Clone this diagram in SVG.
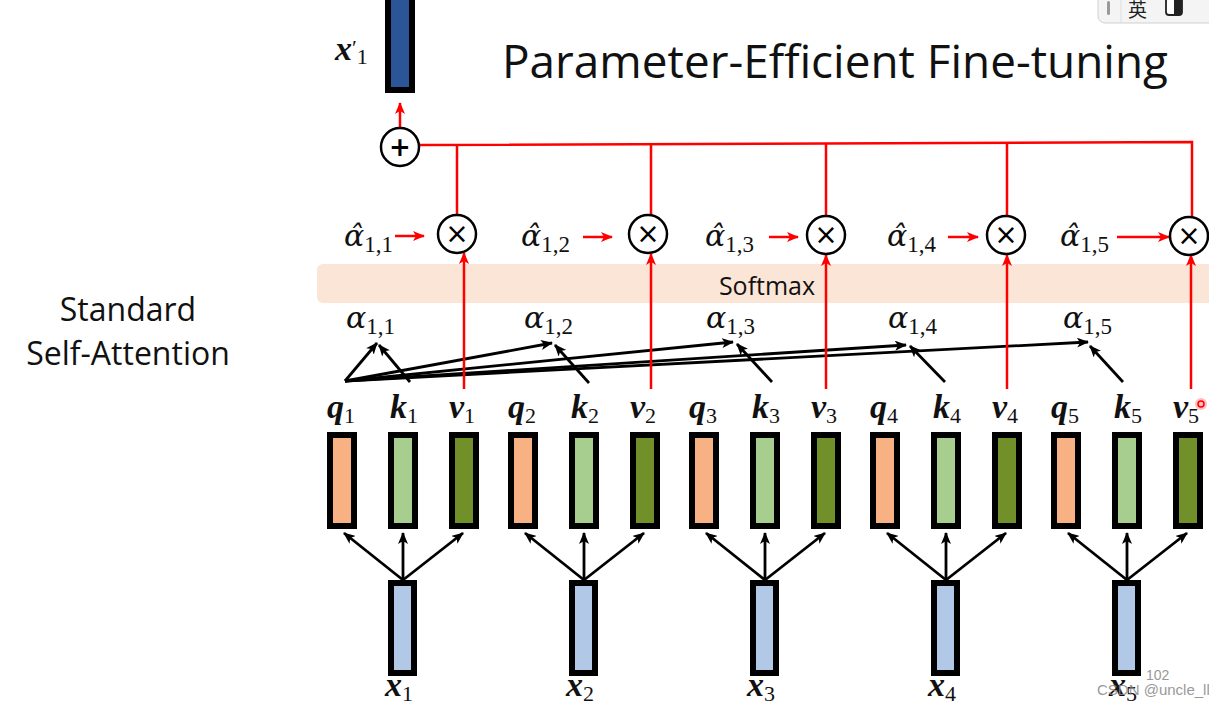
<svg xmlns="http://www.w3.org/2000/svg" width="1209" height="704" viewBox="0 0 1209 704">
<defs>
<marker id="ab" markerUnits="userSpaceOnUse" markerWidth="12" markerHeight="10" refX="11" refY="5" orient="auto"><path d="M0,0 L12,5 L0,10 L3,5 Z" fill="#000"/></marker>
<marker id="ar" markerUnits="userSpaceOnUse" markerWidth="12" markerHeight="10" refX="11" refY="5" orient="auto"><path d="M0,0 L12,5 L0,10 L3,5 Z" fill="#f00"/></marker>
<style>
.box{stroke:#000;stroke-width:6}
.q{fill:#F8B183}.k{fill:#A7CD8F}.v{fill:#72902A}.x{fill:#B1C8E6}.xo{fill:#2C5597}
.bl{stroke:#000;stroke-width:2.8;fill:none;marker-end:url(#ab)}
.rd{stroke:#f00;stroke-width:2.5;fill:none}
.ra{stroke:#f00;stroke-width:2.5;fill:none;marker-end:url(#ar)}
.op{fill:#fff;stroke:#000;stroke-width:2.5}
.lb{font-family:"Liberation Serif",serif;font-style:italic;font-weight:bold;font-size:34px;fill:#111}
.sb{font-family:"Liberation Serif",serif;font-style:normal;font-weight:normal;font-size:22px}
.al{font-family:"DejaVu Serif",serif;font-style:italic;font-size:30px;fill:#111}
.as{font-family:"Liberation Serif",serif;font-style:normal;font-size:23px}
.sans{font-family:"Open Sans","Liberation Sans",sans-serif}
.sym{font-family:"DejaVu Sans",sans-serif;text-anchor:middle}
</style>
</defs>
<rect width="1209" height="704" fill="#fff"/>

<!-- title & side label -->
<text class="sans" x="502" y="78" font-size="46" textLength="666" lengthAdjust="spacingAndGlyphs" fill="#111">Parameter-Efficient Fine-tuning</text>
<g id="side-label" class="sans" font-size="32" text-anchor="middle" fill="#111">
<text x="128" y="321">Standard</text>
<text x="128" y="365">Self-Attention</text>
</g>

<!-- softmax band -->
<g id="softmax">
<rect x="317" y="264" width="900" height="39" rx="6" fill="#FBE5D6"/>
<text class="sans" x="767" y="295" font-size="25" text-anchor="middle" fill="#111">Softmax</text>
</g>

<!-- connectors -->
<g id="connectors">
<path class="bl" d="M403,580 L344,533"/><path class="bl" d="M403,580 L403,533"/><path class="bl" d="M403,580 L463,533"/>
<path class="bl" d="M584,580 L525,533"/><path class="bl" d="M584,580 L584,533"/><path class="bl" d="M584,580 L644,533"/>
<path class="bl" d="M765,580 L706,533"/><path class="bl" d="M765,580 L765,533"/><path class="bl" d="M765,580 L825,533"/>
<path class="bl" d="M946,580 L887,533"/><path class="bl" d="M946,580 L946,533"/><path class="bl" d="M946,580 L1006,533"/>
<path class="bl" d="M1127,580 L1068,533"/><path class="bl" d="M1127,580 L1127,533"/><path class="bl" d="M1127,580 L1187,533"/>
<path class="bl" d="M345,381 L377,343"/>
<path class="bl" d="M345,381 L552,343"/>
<path class="bl" d="M345,381 L733,342"/>
<path class="bl" d="M345,381 L906,345"/>
<path class="bl" d="M345,381 L1088,342"/>
<path class="bl" d="M410,382 L379,345"/>
<path class="bl" d="M589,383 L555,345"/>
<path class="bl" d="M772,382 L737,344"/>
<path class="bl" d="M945,382 L910,346"/>
<path class="bl" d="M1123,382 L1090,346"/>
<path class="ra" d="M464,389 L464,253"/>
<path class="ra" d="M651,389 L651,254"/>
<path class="ra" d="M826,389 L826,255"/>
<path class="ra" d="M1007,389 L1007,255"/>
<path class="ra" d="M1191,389 L1191,255"/>
<path class="ra" d="M395,236 L424,236"/>
<path class="ra" d="M583,237 L612,237"/>
<path class="ra" d="M769,237 L798,237"/>
<path class="ra" d="M948,237 L978,237"/>
<path class="ra" d="M1117,237 L1169,237"/>
<path class="rd" d="M420,145 L1192,142 L1192,216"/>
<path class="rd" d="M457,145 L457,215 M651,144 L651,215 M826,144 L826,216 M1007,143 L1007,216"/>
<path class="ra" d="M400,127 L400,103"/>
</g>

<!-- operators -->
<g id="sum"><circle class="op" cx="400" cy="147" r="19"/><text class="sym" x="400" y="156" font-size="26" font-weight="bold">+</text></g>
<g id="mul1"><circle class="op" cx="457" cy="234" r="19"/><text class="sym" x="457" y="243" font-size="28">×</text></g>
<g id="mul2"><circle class="op" cx="648" cy="234" r="19"/><text class="sym" x="648" y="243" font-size="28">×</text></g>
<g id="mul3"><circle class="op" cx="826" cy="235" r="19"/><text class="sym" x="826" y="244" font-size="28">×</text></g>
<g id="mul4"><circle class="op" cx="1006" cy="235" r="19"/><text class="sym" x="1006" y="244" font-size="28">×</text></g>
<g id="mul5"><circle class="op" cx="1189" cy="236" r="19"/><text class="sym" x="1189" y="245" font-size="28">×</text></g>

<!-- output x'1 -->
<g id="xout">
<rect class="box xo" x="388" y="-6" width="24" height="96"/>
<text class="lb" x="335" y="60">x<tspan class="sb" font-size="28" dy="-5">′</tspan><tspan class="sb" dy="9">1</tspan></text>
</g>

<!-- alpha-hat labels -->
<g id="alphahat">
<text class="al" x="344" y="246">α̂<tspan class="as" dy="6">1,1</tspan></text>
<text class="al" x="521" y="246">α̂<tspan class="as" dy="6">1,2</tspan></text>
<text class="al" x="705" y="246">α̂<tspan class="as" dy="6">1,3</tspan></text>
<text class="al" x="887" y="246">α̂<tspan class="as" dy="6">1,4</tspan></text>
<text class="al" x="1060" y="246">α̂<tspan class="as" dy="6">1,5</tspan></text>
</g>

<!-- alpha labels -->
<g id="alpha">
<text class="al" x="346" y="328">α<tspan class="as" dy="6">1,1</tspan></text>
<text class="al" x="524" y="328">α<tspan class="as" dy="6">1,2</tspan></text>
<text class="al" x="706" y="328">α<tspan class="as" dy="6">1,3</tspan></text>
<text class="al" x="888" y="328">α<tspan class="as" dy="6">1,4</tspan></text>
<text class="al" x="1063" y="328">α<tspan class="as" dy="6">1,5</tspan></text>
</g>

<!-- token groups -->
<g id="tok1">
<rect class="box q" x="330" y="435" width="24" height="91"/><rect class="box k" x="391" y="435" width="24" height="91"/><rect class="box v" x="452" y="435" width="24" height="91"/>
<text class="lb" x="327" y="418">q<tspan class="sb" dy="5">1</tspan></text>
<text class="lb" x="390" y="418">k<tspan class="sb" dy="5">1</tspan></text>
<text class="lb" x="449" y="418">v<tspan class="sb" dy="5">1</tspan></text>
<rect class="box x" x="391" y="583" width="23" height="90"/>
<text class="lb" x="385" y="696">x<tspan class="sb" dy="5">1</tspan></text>
</g>
<g id="tok2">
<rect class="box q" x="511" y="435" width="24" height="91"/><rect class="box k" x="572" y="435" width="24" height="91"/><rect class="box v" x="633" y="435" width="24" height="91"/>
<text class="lb" x="508" y="418">q<tspan class="sb" dy="5">2</tspan></text>
<text class="lb" x="571" y="418">k<tspan class="sb" dy="5">2</tspan></text>
<text class="lb" x="630" y="418">v<tspan class="sb" dy="5">2</tspan></text>
<rect class="box x" x="572" y="583" width="23" height="90"/>
<text class="lb" x="566" y="696">x<tspan class="sb" dy="5">2</tspan></text>
</g>
<g id="tok3">
<rect class="box q" x="692" y="435" width="24" height="91"/><rect class="box k" x="753" y="435" width="24" height="91"/><rect class="box v" x="814" y="435" width="24" height="91"/>
<text class="lb" x="689" y="418">q<tspan class="sb" dy="5">3</tspan></text>
<text class="lb" x="752" y="418">k<tspan class="sb" dy="5">3</tspan></text>
<text class="lb" x="811" y="418">v<tspan class="sb" dy="5">3</tspan></text>
<rect class="box x" x="753" y="583" width="23" height="90"/>
<text class="lb" x="747" y="696">x<tspan class="sb" dy="5">3</tspan></text>
</g>
<g id="tok4">
<rect class="box q" x="873" y="435" width="24" height="91"/><rect class="box k" x="934" y="435" width="24" height="91"/><rect class="box v" x="995" y="435" width="24" height="91"/>
<text class="lb" x="870" y="418">q<tspan class="sb" dy="5">4</tspan></text>
<text class="lb" x="933" y="418">k<tspan class="sb" dy="5">4</tspan></text>
<text class="lb" x="992" y="418">v<tspan class="sb" dy="5">4</tspan></text>
<rect class="box x" x="934" y="583" width="23" height="90"/>
<text class="lb" x="928" y="696">x<tspan class="sb" dy="5">4</tspan></text>
</g>
<g id="tok5">
<rect class="box q" x="1054" y="435" width="24" height="91"/><rect class="box k" x="1115" y="435" width="24" height="91"/><rect class="box v" x="1176" y="435" width="24" height="91"/>
<text class="lb" x="1051" y="418">q<tspan class="sb" dy="5">5</tspan></text>
<text class="lb" x="1114" y="418">k<tspan class="sb" dy="5">5</tspan></text>
<text class="lb" x="1173" y="418">v<tspan class="sb" dy="5">5</tspan></text>
<rect class="box x" x="1115" y="583" width="23" height="90"/>
<text class="lb" x="1109" y="696">x<tspan class="sb" dy="5">5</tspan></text>
</g>

<!-- cursor highlight -->
<circle cx="1201" cy="404" r="6" fill="#ff8080" opacity="0.5"/>
<circle cx="1201" cy="404" r="3" fill="none" stroke="#f00" stroke-width="1.5"/>

<!-- watermark -->
<g font-family="Liberation Sans,sans-serif" fill="#888" opacity="0.85">
<text x="1146" y="680" font-size="14">102</text>
<text x="1097" y="695" font-size="15">CSDN @uncle_ll</text>
</g>

<!-- UI widget -->
<g id="ui">
<rect x="1098" y="-12" width="130" height="35" rx="7" fill="#f4f4f4" stroke="#d0d0d0"/>
<rect x="1107" y="1" width="3" height="14" rx="1.5" fill="#999"/>
<line x1="1121" y1="-12" x2="1121" y2="23" stroke="#ddd"/>
<text x="1128" y="17" font-family="Noto Sans CJK SC,sans-serif" font-size="19" fill="#222">英</text>
<rect x="1166" y="-2" width="16" height="17" rx="3" fill="#fff" stroke="#222" stroke-width="1.8"/>
<rect x="1174" y="-2" width="8" height="17" fill="#222"/>
</g>
</svg>
